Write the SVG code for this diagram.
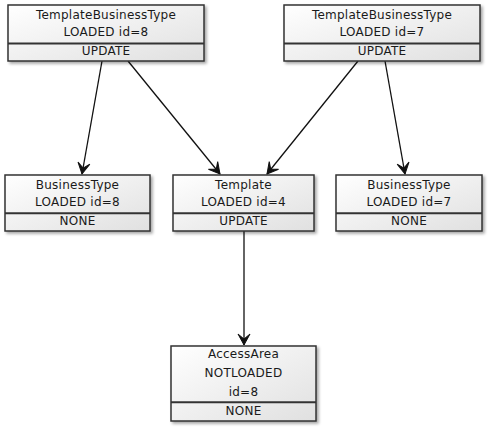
<svg xmlns="http://www.w3.org/2000/svg" width="488" height="428" viewBox="0 0 488 428">
<defs>
<linearGradient id="g" x1="0" y1="0" x2="1" y2="1">
<stop offset="0" stop-color="#ffffff"/>
<stop offset="1" stop-color="#e0e0e0"/>
</linearGradient>
<filter id="sh" x="-10%" y="-10%" width="130%" height="130%">
<feDropShadow dx="2" dy="2" stdDeviation="1.5" flood-color="#000" flood-opacity="0.35"/>
</filter>
<marker id="arr" viewBox="-12 -7 14 14" refX="0" refY="0" markerWidth="14" markerHeight="14" markerUnits="userSpaceOnUse" orient="auto">
<path d="M0,0 L-11,-6 L-6,0 L-11,6 Z" fill="#111" stroke="#111" stroke-width="1" stroke-linejoin="miter"/>
</marker>
<style>
.box{fill:url(#g);stroke:#333;stroke-width:1.5;filter:url(#sh)}
.div{stroke:#333;stroke-width:2}
text{font-family:"DejaVu Sans",sans-serif;font-size:12px;fill:#1a1a1a;text-anchor:middle;letter-spacing:0.25px}
.c{stroke:#111;stroke-width:1.3;fill:none;marker-end:url(#arr)}
</style>
</defs>
<g id="connectors">
<line class="c" x1="102" y1="61" x2="82" y2="174"/>
<line class="c" x1="128" y1="61" x2="220" y2="174"/>
<line class="c" x1="358" y1="61" x2="267" y2="174"/>
<line class="c" x1="385" y1="61" x2="405" y2="174"/>
<line class="c" x1="244" y1="231" x2="244" y2="345"/>
</g>
<g id="tbt8">
<rect class="box" x="8" y="5" width="196" height="56"/>
<line class="div" x1="8" y1="43.5" x2="204" y2="43.5"/>
<text x="106" y="19">TemplateBusinessType</text>
<text x="106" y="35.7">LOADED id=8</text>
<text x="106" y="55">UPDATE</text>
</g>
<g id="tbt7">
<rect class="box" x="284" y="5" width="196" height="56"/>
<line class="div" x1="284" y1="43.5" x2="480" y2="43.5"/>
<text x="382" y="19">TemplateBusinessType</text>
<text x="382" y="35.7">LOADED id=7</text>
<text x="382" y="55">UPDATE</text>
</g>
<g id="bt8">
<rect class="box" x="5" y="175" width="145" height="56"/>
<line class="div" x1="5" y1="213.3" x2="150" y2="213.3"/>
<text x="77.5" y="188.5">BusinessType</text>
<text x="77.5" y="205.5">LOADED id=8</text>
<text x="77.5" y="225">NONE</text>
</g>
<g id="tpl">
<rect class="box" x="173" y="175" width="141" height="56"/>
<line class="div" x1="173" y1="213.3" x2="314" y2="213.3"/>
<text x="243.5" y="188.5">Template</text>
<text x="243.5" y="205.5">LOADED id=4</text>
<text x="243.5" y="225">UPDATE</text>
</g>
<g id="bt7">
<rect class="box" x="336" y="175" width="146" height="56"/>
<line class="div" x1="336" y1="213.3" x2="482" y2="213.3"/>
<text x="409" y="188.5">BusinessType</text>
<text x="409" y="205.5">LOADED id=7</text>
<text x="409" y="225">NONE</text>
</g>
<g id="aa">
<rect class="box" x="171" y="346" width="145" height="75"/>
<line class="div" x1="171" y1="402.3" x2="316" y2="402.3"/>
<text x="243.5" y="358">AccessArea</text>
<text x="243.5" y="377">NOTLOADED</text>
<text x="243.5" y="396">id=8</text>
<text x="243.5" y="414.5">NONE</text>
</g>
</svg>
